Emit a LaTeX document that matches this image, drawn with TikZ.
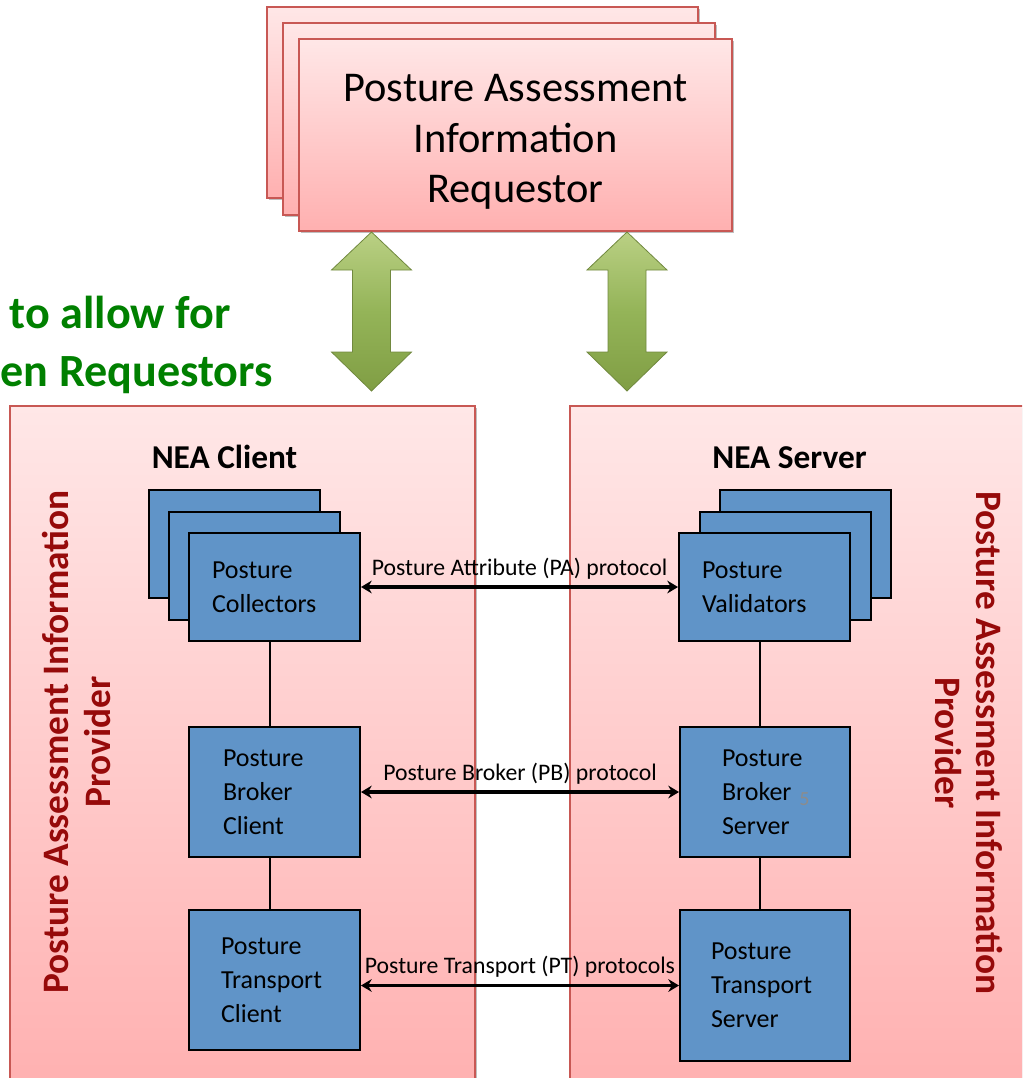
\documentclass[tikz,border=0pt]{standalone}
\usepackage{fontspec}
\setmainfont{Carlito}
\usetikzlibrary{arrows.meta,shadows}
\definecolor{pinkedge}{RGB}{200,88,84}
\definecolor{pinktop}{RGB}{255,231,231}
\definecolor{pinkbot}{RGB}{255,176,176}
\definecolor{bluefill}{RGB}{96,148,200}
\definecolor{darkred}{RGB}{150,10,10}
\definecolor{titlegreen}{RGB}{0,128,0}
\definecolor{arrowtop}{RGB}{186,208,132}
\definecolor{arrowmid}{RGB}{148,180,88}
\definecolor{arrowbot}{RGB}{128,158,68}
\definecolor{arrowedge}{RGB}{113,137,63}
\definecolor{slidegray}{RGB}{140,140,140}
\newcommand{\upx}{*0.75pt}
\begin{document}
\begin{tikzpicture}[x=0.75pt,y=-0.75pt,
  softshadow/.style={drop shadow={shadow xshift=1.5pt, shadow yshift=-1.5pt, opacity=0.25, fill=black}},
  panel/.style={draw=pinkedge, line width=1.5pt, top color=pinktop, bottom color=pinkbot, softshadow},
  reqbox/.style={draw=pinkedge, line width=1.5pt, top color=pinktop, bottom color=pinkbot, softshadow, inner sep=0pt},
  reqtext/.style={font=\fontsize{31.8}{37.9}\selectfont, align=center, inner sep=0pt},
  bluebox/.style={draw=black, line width=1.5pt, fill=bluefill, align=left, inner ysep=0pt,
     font=\fontsize{19.5}{25.6}\selectfont},
  greenarrow/.style={draw=arrowedge, line width=0.6pt, top color=arrowtop, bottom color=arrowbot, middle color=arrowmid, line join=miter},
  greentext/.style={text=titlegreen, font=\fontsize{34.6}{40}\selectfont\bfseries, inner sep=0pt, anchor=base east},
  sidelabel/.style={text=darkred, font=\fontsize{28}{30.8}\selectfont\bfseries, align=center, inner sep=0pt},
  nealabel/.style={font=\fontsize{25}{30}\selectfont\bfseries, inner sep=0pt, anchor=base},
  proto/.style={line width=2.6pt, {Stealth[length=8pt,width=9.5pt]}-{Stealth[length=8pt,width=9.5pt]}},
  protolabel/.style={font=\fontsize{17.8}{20}\selectfont, inner sep=0pt, anchor=base, yshift=9pt},
  link/.style={line width=0.9pt}
]
\useasboundingbox (0,0) rectangle (1022,1078);
\clip (0,0) rectangle (1022,1078);

% panels
\node[panel, minimum width={465\upx}, minimum height={690\upx}] (clientpanel) at (242.5,751) {};
\node[panel, minimum width={470\upx}, minimum height={690\upx}] (serverpanel) at (805,751) {};

% requestor stack
\node[reqbox, minimum width={431\upx}, minimum height={191\upx}] (req3) at (482.5,102.5) {};
\node[reqbox, minimum width={432\upx}, minimum height={192\upx}] (req2) at (499,119) {};
\node[reqbox, minimum width={433\upx}, minimum height={192\upx}] (req) at (515.5,135) {};
\node[reqtext] (reqlabel) at ([yshift=-5.2pt]req.center) {Posture Assessment\\Information\\Requestor};

% green double arrows
\shade[greenarrow] (371.5,232) -- (411.5,270) -- (390.5,270) -- (390.5,352) -- (411.5,352) -- (371.5,391)
  -- (331.5,352) -- (352.5,352) -- (352.5,270) -- (331.5,270) -- cycle;
\shade[greenarrow] (627,232) -- (667,270) -- (646,270) -- (646,352) -- (667,352) -- (627,391)
  -- (587,352) -- (608,352) -- (608,270) -- (587,270) -- cycle;

% green heading
\node[greentext] (g1) at (231,328) {to allow for};
\node[greentext] (g2) at (273,386) {en Requestors};

% side labels
\node[sidelabel, rotate=90] (provL) at (76.5,742) {Posture Assessment Information\\Provider};
\node[sidelabel, rotate=-90] (provR) at (969,743) {Posture Assessment Information\\Provider};

% NEA titles
\node[nealabel] (neaC) at (224.5,468) {NEA Client};
\node[nealabel] (neaS) at (789.5,468) {NEA Server};

% collectors stack
\node[bluebox, minimum width={171\upx}, minimum height={108\upx}] (col3) at (234.5,544) {};
\node[bluebox, minimum width={171\upx}, minimum height={108\upx}] (col2) at (254.5,566) {};
\node[bluebox, text width={125\upx}, inner xsep={23\upx}, minimum height={108\upx}] (col) at (274.5,587) {Posture\\Collectors};

% validators stack
\node[bluebox, minimum width={171\upx}, minimum height={108\upx}] (val3) at (805.5,544) {};
\node[bluebox, minimum width={171\upx}, minimum height={108\upx}] (val2) at (785,566) {};
\node[bluebox, text width={125\upx}, inner xsep={23\upx}, minimum height={108\upx}] (val) at (764.5,587) {Posture\\Validators};

% broker / transport
\node[bluebox, text width={103\upx}, inner xsep={34\upx}, minimum height={130\upx}] (bc) at (274.5,792) {Posture\\Broker\\Client};
\node[bluebox, text width={107\upx}, inner xsep={32\upx}, minimum height={140\upx}] (tc) at (274.5,980) {Posture\\Transport\\Client};
\node[bluebox, text width={86\upx}, inner xsep={42\upx}, minimum height={130\upx}] (bs) at (765,792) {Posture\\Broker\\Server};
\node[bluebox, text width={108\upx}, inner xsep={31\upx}, minimum height={151\upx}] (ts) at (765,985.5) {Posture\\Transport\\Server};
\node[anchor=base west, text=slidegray, font=\fontsize{15}{18}\selectfont, inner sep=0pt] (pnum) at (799,805) {5};

% vertical links
\draw[link] ([xshift=-3.4pt]col.south) -- ([xshift=-3.4pt]bc.north);
\draw[link] ([xshift=-3.4pt]bc.south) -- ([xshift=-3.4pt]tc.north);
\draw[link] ([xshift=-3.4pt]val.south) -- ([xshift=-3.4pt]val.south |- bs.north);
\draw[link] ([xshift=-3.4pt]val.south |- bs.south) -- ([xshift=-3.4pt]val.south |- ts.north);

% protocols
\draw[proto] (col.east) -- (val.west) node[protolabel, midway] (pa) {Posture Attribute (PA) protocol};
\draw[proto] (bc.east) -- (bs.west) node[protolabel, midway] (pb) {Posture Broker (PB) protocol};
\draw[proto] (tc.east |- ts.west) -- (ts.west) node[protolabel, midway] (pt) {Posture Transport (PT) protocols};
\end{tikzpicture}
\end{document}
